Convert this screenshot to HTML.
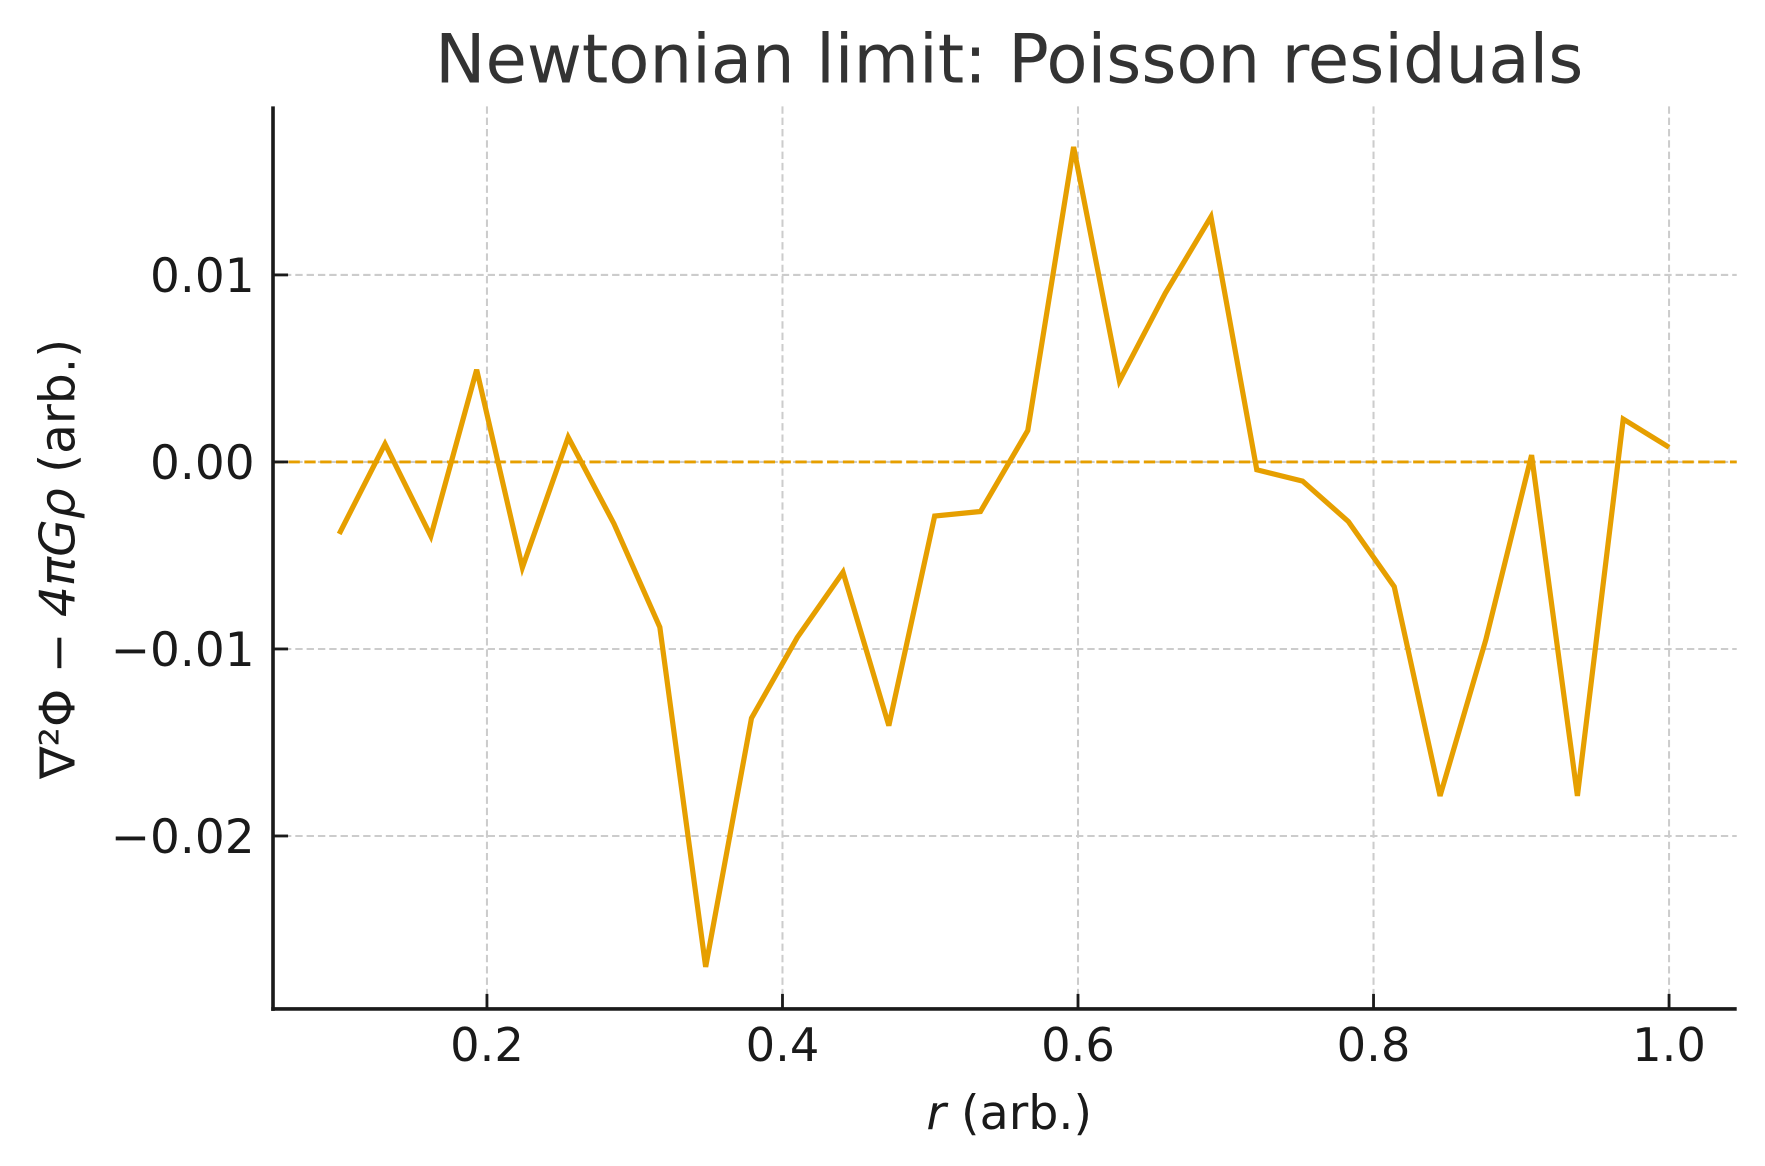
<!DOCTYPE html>
<html><head><meta charset="utf-8"><style>
html,body{margin:0;padding:0;background:#fff;}
svg{display:block;font-family:"DejaVu Sans","Liberation Sans",sans-serif;}
</style></head><body>
<svg id="chart" width="1765" height="1166" viewBox="0 0 1560 1030.6" preserveAspectRatio="none" xmlns="http://www.w3.org/2000/svg">
<rect width="1560" height="1030.6" fill="#fff"/>
<text x="892" y="73" text-anchor="middle" font-size="59.5" fill="#333">Newtonian limit: Poisson residuals</text>
<g id="grid"></g>
<g id="series"></g>
<line x1="241.3" y1="94" x2="241.3" y2="893.5" stroke="#1a1a1a" stroke-width="3.2"/>
<line x1="239.7" y1="891.8" x2="1535" y2="891.8" stroke="#1a1a1a" stroke-width="3.2"/>
<g id="ticks"></g>
<text x="892" y="998" text-anchor="middle" font-size="42" fill="#1a1a1a"><tspan font-style="italic">r</tspan> (arb.)</text>
<text transform="translate(66,494) rotate(-90)" text-anchor="middle" font-size="43" fill="#1a1a1a">∇²Φ − <tspan font-style="italic">4πGρ</tspan> (arb.)</text>
<script>
const xValues=[0.1,0.131,0.162,0.193,0.224,0.255,0.286,0.317,0.348,0.379,0.410,0.441,0.472,0.503,0.534,0.566,0.597,0.628,0.659,0.690,0.721,0.752,0.783,0.814,0.845,0.876,0.907,0.938,0.969,1.0];
const yValues=[-0.00385,0.00096,-0.00397,0.00493,-0.00565,0.00132,-0.00331,-0.00884,-0.0270,-0.0137,-0.00938,-0.00589,-0.0141,-0.00289,-0.00265,0.00168,0.01684,0.00433,0.00902,0.01311,-0.00042,-0.00102,-0.00319,-0.00667,-0.01786,-0.0095,0.00036,-0.01786,0.00229,0.00078];
const xTicks=[0.2,0.4,0.6,0.8,1.0];
const xTickLabels=["0.2","0.4","0.6","0.8","1.0"];
const yTicks=[0.01,0,-0.01,-0.02];
const yTickLabels=["0.01","0.00","−0.01","−0.02"];
const X=v=>430.4+(v-0.2)*1306;
const Y=v=>408.3-v*16530;
const NS="http://www.w3.org/2000/svg";
function mk(tag,attrs,parent){const e=document.createElementNS(NS,tag);for(const k in attrs)e.setAttribute(k,attrs[k]);parent.appendChild(e);return e;}
const grid=document.getElementById('grid'),ticks=document.getElementById('ticks'),series=document.getElementById('series');
xTicks.forEach((t,i)=>{
 const g=mk('line',{x1:X(t),x2:X(t),y1:94,y2:891,stroke:'#cccccc','stroke-width':1.8,'stroke-dasharray':'6.5,3.5'},grid);
 
 
 mk('line',{x1:X(t),x2:X(t),y1:891.8,y2:878.5,stroke:'#1a1a1a','stroke-width':2.5},ticks);
 const l=mk('text',{x:X(t),y:938,'text-anchor':'middle','font-size':41,fill:'#1a1a1a'},ticks);
 l.textContent=xTickLabels[i];
 
 
});
yTicks.forEach((t,i)=>{
 const g=mk('line',{x1:241,x2:1535,y1:Y(t),y2:Y(t),stroke:'#cccccc','stroke-width':1.8,'stroke-dasharray':'6.5,3.5'},grid);
 
 
 mk('line',{x1:241.3,x2:254.6,y1:Y(t),y2:Y(t),stroke:'#1a1a1a','stroke-width':2.5},ticks);
 const l=mk('text',{x:225,y:Y(t)+15,'text-anchor':'end','font-size':41.5,fill:'#1a1a1a'},ticks);
 l.textContent=yTickLabels[i];
 
 
});
const zero=mk('line',{x1:241,x2:1535,y1:Y(0),y2:Y(0),stroke:'#E69F00','stroke-width':2.6,'stroke-dasharray':'10,4'},series);


const pts=xValues.map((x,i)=>X(x).toFixed(1)+','+Y(yValues[i]).toFixed(1)).join(' ');
const line=mk('polyline',{points:pts,fill:'none',stroke:'#E69F00','stroke-width':4.6,'stroke-linejoin':'miter'},series);


</script>
</svg>
</body></html>
